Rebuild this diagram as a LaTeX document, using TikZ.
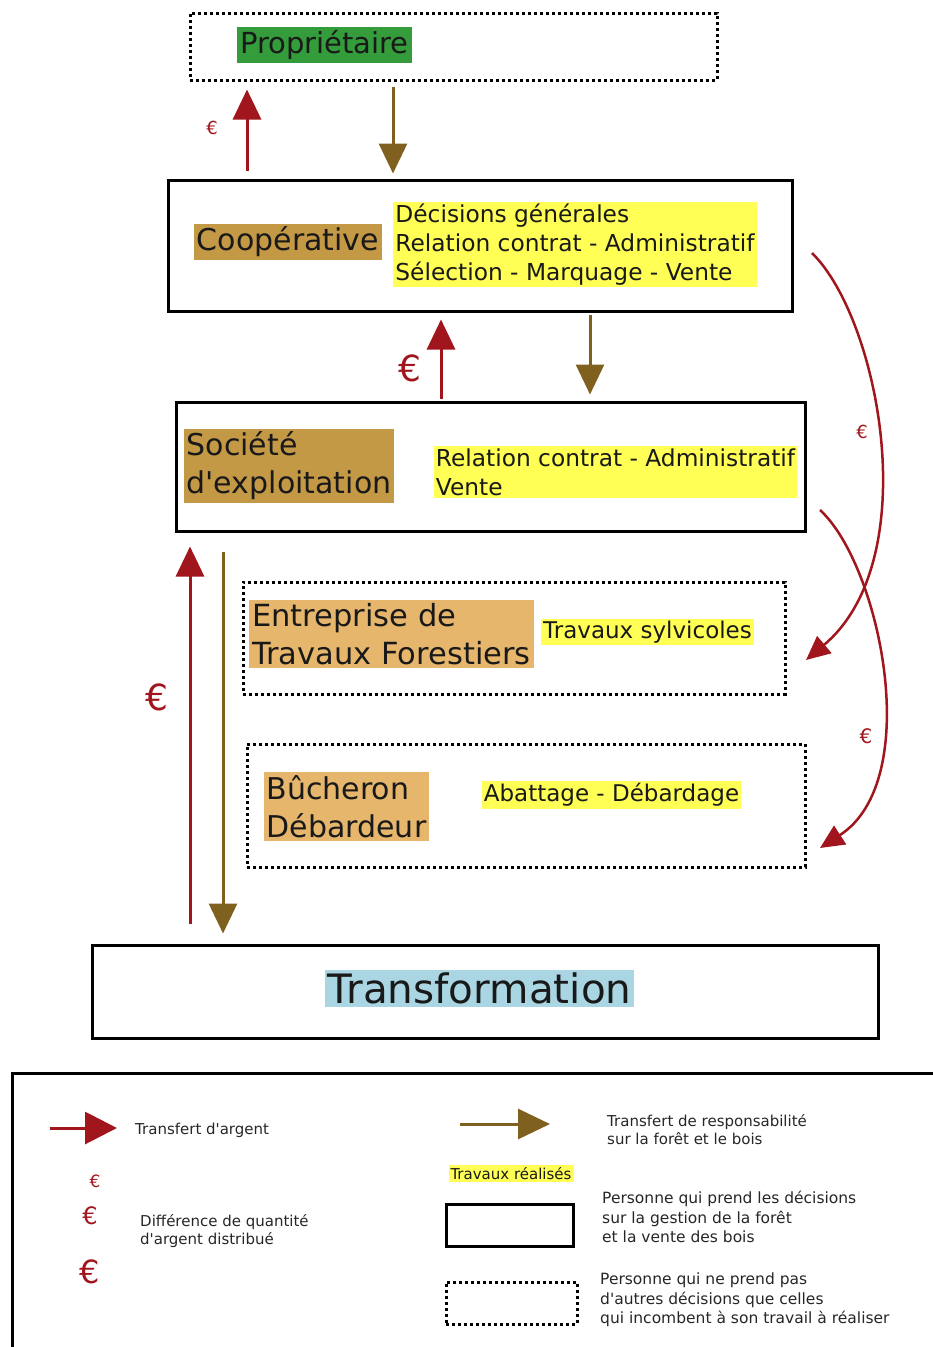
\documentclass[tikz,border=0pt]{standalone}
\usepackage{fontspec}
\setmainfont{DejaVu Sans}[Ligatures=TeXOff]
\usetikzlibrary{arrows.meta,calc}
\definecolor{darkred}{RGB}{160,22,28}
\definecolor{brownc}{RGB}{128,96,30}
\definecolor{greenc}{RGB}{52,156,58}
\definecolor{tanc}{RGB}{196,153,70}
\definecolor{orangec}{RGB}{230,182,108}
\definecolor{yellowc}{RGB}{255,255,85}
\definecolor{bluec}{RGB}{170,214,228}
\newcommand\fsz[2]{\fontsize{#1}{#2}\selectfont}
\tikzset{
  solidbox/.style={draw=black, line width=3pt, rectangle, inner sep=0pt},
  dotbox/.style={draw=black, line width=3pt, dash pattern=on 3pt off 3pt, rectangle, inner sep=0pt},
  lab/.style={inner sep=3pt, align=left, text=black!90},
  redarr/.style={draw=darkred, line width=3pt, -{Triangle[length=30pt,width=28pt]}},
  brownarr/.style={draw=brownc, line width=3pt, -{Triangle[length=30pt,width=28pt]}},
  curvarr/.style={draw=darkred, line width=2.5pt, -{Triangle[length=24pt,width=22pt]}},
  euro/.style={text=darkred, inner sep=0pt},
  legtxt/.style={inner sep=0pt, anchor=west, align=left, text=black!85, font=\fsz{15}{19}},
}
\begin{document}
\begin{tikzpicture}[x=1pt,y=-1pt]
\useasboundingbox (0,0) rectangle (933,1347);
\clip (0,0) rectangle (933,1347);

% boxes
\node[dotbox, minimum width=527pt, minimum height=67pt] (prop) at (453.5,46.5) {};
\node[solidbox, minimum width=624pt, minimum height=131pt] (coop) at (480,245.5) {};
\node[solidbox, minimum width=629pt, minimum height=129pt] (soc) at (490.5,466.5) {};
\node[dotbox, minimum width=542pt, minimum height=112pt] (ent) at (514,638) {};
\node[dotbox, minimum width=558pt, minimum height=123pt] (buch) at (526,805.5) {};
\node[solidbox, minimum width=786pt, minimum height=93pt] (trans) at (485,991.5) {};

% labels
\node[lab, fill=greenc, font=\fsz{29}{34}] (propl) at (324.5,45) {Propriétaire};
\node[lab, fill=tanc, font=\fsz{30}{38}] (coopl) at (288,242) {Coopérative};
\node[lab, fill=yellowc, font=\fsz{23.3}{29}, inner sep=2pt] (coopy) at (575,244.5)
  {Décisions générales\\Relation contrat - Administratif\\Sélection - Marquage - Vente};
\node[lab, fill=tanc, font=\fsz{30}{38}] (socl) at (289,466) {Société\\d'exploitation};
\node[lab, fill=yellowc, font=\fsz{23.3}{29}, inner sep=2pt] (socy) at (615.5,472)
  {Relation contrat - Administratif\\Vente};
\node[lab, fill=orangec, font=\fsz{30.5}{38}] (entl) at (391.5,634) {Entreprise de\\Travaux Forestiers};
\node[lab, fill=yellowc, font=\fsz{23}{29}, inner sep=2pt] (enty) at (647.5,632) {Travaux sylvicoles};
\node[lab, fill=orangec, font=\fsz{30}{38}] (buchl) at (346.5,806.5) {Bûcheron\\Débardeur};
\node[lab, fill=yellowc, font=\fsz{23}{29}, inner sep=2pt] (buchy) at (611.5,795) {Abattage - Débardage};
\node[lab, fill=bluec, font=\fsz{40.5}{48}] (transl) at (479.5,988.5) {Transformation};

% x positions
\coordinate (xa) at (247,0);
\coordinate (xb) at (393,0);
\coordinate (xc) at (441,0);
\coordinate (xd) at (590,0);
\coordinate (xe) at (190,0);
\coordinate (xf) at (223,0);

% vertical arrows
\draw[redarr, shorten <=8pt, shorten >=8pt] (coop.north -| xa) -- (prop.south -| xa);
\draw[brownarr, shorten <=5pt, shorten >=5pt] (prop.south -| xb) -- (coop.north -| xb);
\draw[redarr, shorten <=2pt, shorten >=7pt] (soc.north -| xc) -- (coop.south -| xc);
\draw[brownarr, shorten <=2pt, shorten >=6pt] (coop.south -| xd) -- (soc.north -| xd);
\draw[redarr, shorten <=20pt, shorten >=14pt] (trans.north -| xe) -- (soc.south -| xe);
\draw[brownarr, shorten <=19pt, shorten >=10pt] (soc.south -| xf) -- (trans.north -| xf);

% euro labels
\node[euro, font=\fsz{18}{20}] (e1) at (212,128) {€};
\node[euro, font=\fsz{36}{40}] (e2) at (410,368) {€};
\node[euro, font=\fsz{36}{40}] (e3) at (157,697) {€};
\node[euro, font=\fsz{18}{20}] (e4) at (862,432) {€};
\node[euro, font=\fsz{20}{22}] (e5) at (866,736) {€};

% curved arrows
\coordinate (c1s) at (812,253);
\coordinate (c1e) at (806,660);
\coordinate (c2s) at (820,510);
\coordinate (c2e) at (820,848);
\draw[curvarr] (c1s) .. controls (880,320) and (925,560) .. (c1e);
\draw[curvarr] (c2s) .. controls (880,565) and (925,780) .. (c2e);

% legend
\node[solidbox, minimum width=938pt, minimum height=287pt] (leg) at (481,1216.5) {};
\coordinate (la1) at (50,1128);
\coordinate (la2) at (117,1128);
\coordinate (lb1) at (460,1124);
\coordinate (lb2) at (550,1124);
\draw[draw=darkred, line width=3pt, -{Triangle[length=32pt,width=32pt]}] (la1) -- (la2);
\draw[draw=brownc, line width=3pt, -{Triangle[length=32pt,width=30pt]}] (lb1) -- (lb2);
\node[legtxt] (lt1) at (135,1130) {Transfert d'argent};
\node[euro, font=\fsz{17}{19}] (le1) at (95,1181) {€};
\node[euro, font=\fsz{24}{26}] (le2) at (90,1216) {€};
\node[euro, font=\fsz{32}{34}] (le3) at (90,1272) {€};
\node[legtxt, font=\fsz{15}{18}] (lt2) at (140,1231) {Différence de quantité\\d'argent distribué};
\node[legtxt, font=\fsz{15}{18}] (lt3) at (607,1130) {Transfert de responsabilité\\sur la forêt et le bois};
\node[lab, fill=yellowc, font=\fsz{15}{18}, inner sep=2pt] (ly) at (511,1173.5) {Travaux réalisés};
\node[solidbox, minimum width=127pt, minimum height=42pt] (lbox1) at (509.5,1225) {};
\node[legtxt, font=\fsz{15.5}{19.5}] (lt4) at (602,1217) {Personne qui prend les décisions\\sur la gestion de la forêt\\et la vente des bois};
\node[dotbox, minimum width=131pt, minimum height=42pt] (lbox2) at (511.5,1303) {};
\node[legtxt, font=\fsz{15.5}{19.5}] (lt5) at (600,1300) {Personne qui ne prend pas\\d'autres décisions que celles\\qui incombent à son travail à réaliser};
\end{tikzpicture}
\end{document}
